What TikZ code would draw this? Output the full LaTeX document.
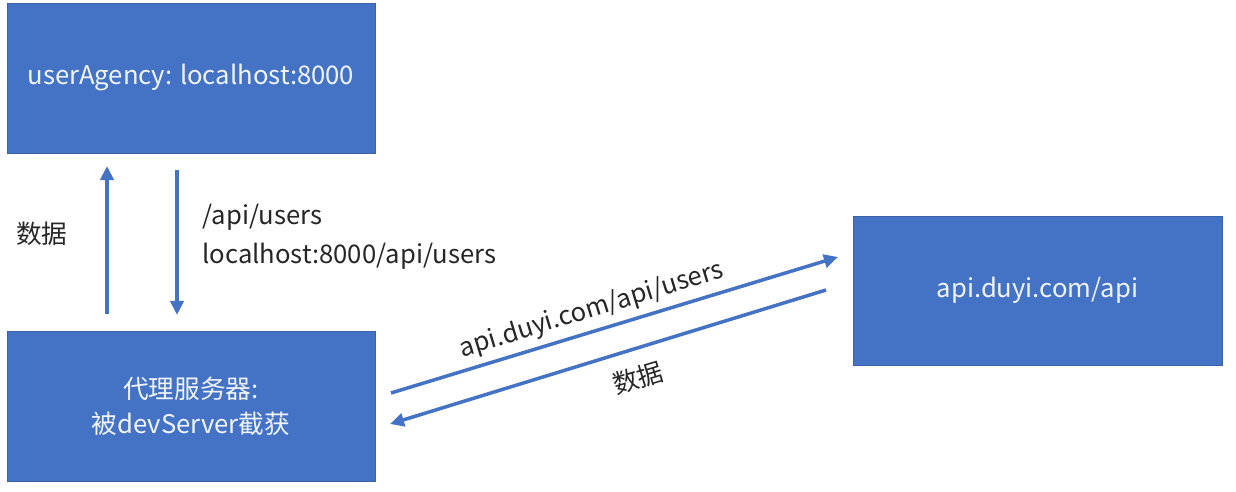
\documentclass[tikz,border=0pt]{standalone}
\usepackage{fontspec}
\setmainfont{Noto Sans CJK SC}
\usetikzlibrary{arrows.meta}
\definecolor{boxblue}{HTML}{4472C4}
\definecolor{boxedge}{HTML}{3A62AA}
\definecolor{labelgray}{HTML}{262626}
\definecolor{boxtext}{HTML}{F0F4FA}
\begin{document}
\begin{tikzpicture}[
      x=0.02cm, y=-0.02cm,
      box_style/.style={draw=boxedge, fill=boxblue, line width=0.5pt, minimum width=7.36cm, minimum height=3cm, text=boxtext, font=\fontsize{14.6}{20}\selectfont, align=center, inner sep=0pt},
      arrow_style/.style={draw=boxblue, line width=2pt, -{Triangle[length=8pt, width=7.5pt]}},
      label_style/.style={text=labelgray, font=\fontsize{14.6}{22}\selectfont, inner sep=0pt}
  ]
      \useasboundingbox (0,0) rectangle (1236,492);

      \node[box_style] (agency) at (191,78) {userAgency: localhost:8000};
      \node[box_style] (proxy) at (191,406) {代理服务器:\\被devServer截获};
      \node[box_style, minimum width=7.38cm, minimum height=2.98cm] (api) at (1037.5,290.5) {api.duyi.com/api};

      \coordinate (up_start) at (107,314);
      \coordinate (up_end) at (107,166);
      \coordinate (down_start) at (177,170);
      \coordinate (down_end) at (177,315);
      \coordinate (out_start) at (391,393);
      \coordinate (out_end) at (838,257);
      \coordinate (back_start) at (826,290);
      \coordinate (back_end) at (390,424);

      \draw[arrow_style] (up_start) -- (up_end);
      \draw[arrow_style] (down_start) -- (down_end);
      \draw[arrow_style] (out_start) -- (out_end);
      \draw[arrow_style] (back_start) -- (back_end);

      \node[label_style] (data_left) at (42,234) {数据};
      \node[label_style, anchor=west, align=left] (path_label) at (202,237) {/api/users\\localhost:8000/api/users};
      \node[label_style, rotate=17] (out_label) at (592,310) {api.duyi.com/api/users};
      \node[label_style, rotate=17] (back_label) at (638,378) {数据};
  \end{tikzpicture}
\end{document}
